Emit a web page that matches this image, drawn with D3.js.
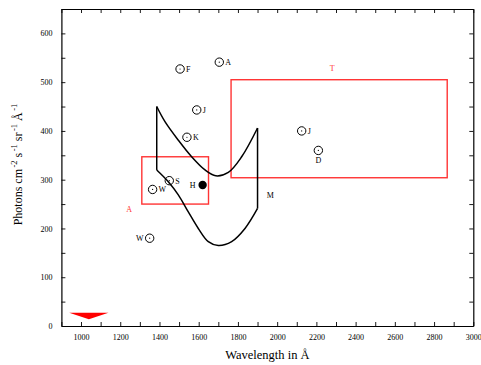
<!DOCTYPE html>
<html>
<head>
<meta charset="utf-8">
<script src="https://cdn.jsdelivr.net/npm/d3@7"></script>
<style>
  html, body { margin: 0; padding: 0; background: #fff; }
  svg { display: block; font-family: "Liberation Serif", "DejaVu Serif", serif; }
</style>
</head>
<body>
<svg id="chart" width="481" height="365"></svg>
<script>
// observations: wavelength (Å), photons, label, label side
const obsLabels = ['F', 'A', 'J', 'K', 'S', 'W', 'W', 'J', 'D'];
const obsWave   = [1505, 1705, 1590, 1540, 1450, 1365, 1350, 2125, 2210];
const obsValue  = [527, 541, 443, 387, 298, 280, 180, 400, 360];
const obsSide   = ['right', 'right', 'right', 'right', 'right', 'right', 'left', 'right', 'below'];

// filled point
const hLabel = 'H';
const hWave = 1620;
const hValue = 289;

// red boxes [x0, x1, y0, y1] and their labels
const boxNames  = ['A', 'T'];
const boxWave   = [[1310, 1650], [1765, 2867]];
const boxValue  = [[250, 347], [304, 505]];
const boxLabelWave  = [1245, 2280];
const boxLabelValue = [240, 530];

// model "M" envelope
const upperWave  = [1386, 1428, 1496, 1564, 1632, 1687, 1751, 1819, 1900];
const upperValue = [450, 419, 381, 347, 320, 308, 315, 347, 406];
const lowerWave  = [1386, 1445, 1496, 1547, 1598, 1649, 1700, 1768, 1836, 1900];
const lowerValue = [320, 296, 269, 234, 200, 173, 165, 173, 200, 241];
const mLabelWave = 1965;
const mLabelValue = 268;

// red marker near the bottom
const triWave  = [940, 1140, 1040];
const triValue = [27, 27, 14];

const xTicks = [1000, 1200, 1400, 1600, 1800, 2000, 2200, 2400, 2600, 2800, 3000];
const yTicks = [0, 100, 200, 300, 400, 500, 600];

const svg = d3.select('#chart');
const margin = { left: 61.4, right: 7.7, top: 9, bottom: 39 };
const W = 481, H = 365;
const x = d3.scaleLinear().domain([900, 3000]).range([margin.left, W - margin.right]);
const y = d3.scaleLinear().domain([0, 650]).range([H - margin.bottom, margin.top]);

const red = '#ff3434';
const g = svg.append('g');

// axes: inward ticks on all four sides
const minorX = d3.range(900, 3001, 100);
const minorY = d3.range(0, 651, 50);
const tickLen = 4;

function styleAxis(sel) {
  sel.selectAll('path').attr('stroke', '#000').attr('stroke-width', 1.2);
  sel.selectAll('line').attr('stroke', '#000').attr('stroke-width', 0.9);
  sel.selectAll('text').attr('font-size', 8).attr('fill', '#000')
    .attr('font-family', '"Liberation Serif", serif');
}

g.append('g').attr('transform', `translate(0,${y(0)})`)
  .call(d3.axisBottom(x).tickValues(minorX).tickSize(-tickLen).tickSizeOuter(0).tickPadding(8)
    .tickFormat(d => xTicks.includes(d) ? d : ''))
  .call(styleAxis);
g.append('g').attr('transform', `translate(0,${y(650)})`)
  .call(d3.axisTop(x).tickValues(minorX).tickSize(-tickLen).tickSizeOuter(0).tickFormat(''))
  .call(styleAxis);
g.append('g').attr('transform', `translate(${x(900)},0)`)
  .call(d3.axisLeft(y).tickValues(minorY).tickSize(-tickLen).tickSizeOuter(0).tickPadding(9)
    .tickFormat(d => yTicks.includes(d) ? d : ''))
  .call(styleAxis);
g.append('g').attr('transform', `translate(${x(3000)},0)`)
  .call(d3.axisRight(y).tickValues(minorY).tickSize(-tickLen).tickSizeOuter(0).tickFormat(''))
  .call(styleAxis);

// axis titles
svg.append('text')
  .attr('x', (x(900) + x(3000)) / 2).attr('y', 359)
  .attr('text-anchor', 'middle').attr('font-size', 12.5)
  .text('Wavelength in Å');

const yl = svg.append('text')
  .attr('transform', `translate(22,${(y(0) + y(650)) / 2 - 3}) rotate(-90)`)
  .attr('text-anchor', 'middle').attr('font-size', 12);
[['Photons cm', 0], ['-2', -1], [' s', 1], ['-1', -1], [' sr', 1], ['-1', -1], [' Å', 1], ['-1', -1]]
  .forEach(([t, s]) => {
    yl.append('tspan').attr('dy', s * 5).attr('dx', s < 0 ? 1.5 : 0)
      .attr('font-size', s < 0 ? 8.5 : 12).text(t);
  });

// red marker
svg.append('path')
  .attr('d', d3.line()(triWave.map((w, i) => [x(w), y(triValue[i])])) + 'Z')
  .attr('fill', 'red');

// red boxes
boxNames.forEach((name, i) => {
  svg.append('rect')
    .attr('x', x(boxWave[i][0])).attr('y', y(boxValue[i][1]))
    .attr('width', x(boxWave[i][1]) - x(boxWave[i][0]))
    .attr('height', y(boxValue[i][0]) - y(boxValue[i][1]))
    .attr('fill', 'none').attr('stroke', red).attr('stroke-width', 1.4);
  svg.append('text')
    .attr('x', x(boxLabelWave[i])).attr('y', y(boxLabelValue[i]) + 3)
    .attr('text-anchor', 'middle').attr('font-size', 8).attr('fill', red)
    .text(name);
});

// model envelope M
const curve = d3.line().curve(d3.curveCatmullRom.alpha(0.5));
const upperPts = upperWave.map((w, i) => [x(w), y(upperValue[i])]);
const lowerPts = lowerWave.map((w, i) => [x(w), y(lowerValue[i])]);
const mStyle = p => p.attr('fill', 'none').attr('stroke', '#000').attr('stroke-width', 1.5);
svg.append('path').attr('d', curve(upperPts)).call(mStyle);
svg.append('path').attr('d', curve(lowerPts)).call(mStyle);
svg.append('path').attr('d', d3.line()([upperPts[0], lowerPts[0]])).call(mStyle);
svg.append('path')
  .attr('d', d3.line()([upperPts[upperPts.length - 1], lowerPts[lowerPts.length - 1]]))
  .call(mStyle);
svg.append('text')
  .attr('x', x(mLabelWave)).attr('y', y(mLabelValue) + 3)
  .attr('text-anchor', 'middle').attr('font-size', 8).text('M');

// open observation points
obsLabels.forEach((lab, i) => {
  const cx = x(obsWave[i]), cy = y(obsValue[i]);
  svg.append('circle').attr('cx', cx).attr('cy', cy).attr('r', 4.2)
    .attr('fill', 'none').attr('stroke', '#000').attr('stroke-width', 1);
  svg.append('circle').attr('cx', cx).attr('cy', cy).attr('r', 0.6).attr('fill', '#000');
  const t = svg.append('text').attr('font-size', 8);
  if (obsSide[i] === 'right') t.attr('x', cx + 6).attr('y', cy + 3);
  else if (obsSide[i] === 'left') t.attr('x', cx - 6).attr('y', cy + 3).attr('text-anchor', 'end');
  else t.attr('x', cx).attr('y', cy + 13).attr('text-anchor', 'middle');
  t.text(lab);
});

// filled point
svg.append('circle').attr('cx', x(hWave)).attr('cy', y(hValue)).attr('r', 4.2).attr('fill', '#000');
svg.append('text').attr('x', x(hWave) - 7).attr('y', y(hValue) + 3)
  .attr('text-anchor', 'end').attr('font-size', 8).text(hLabel);
</script>
</body>
</html>
